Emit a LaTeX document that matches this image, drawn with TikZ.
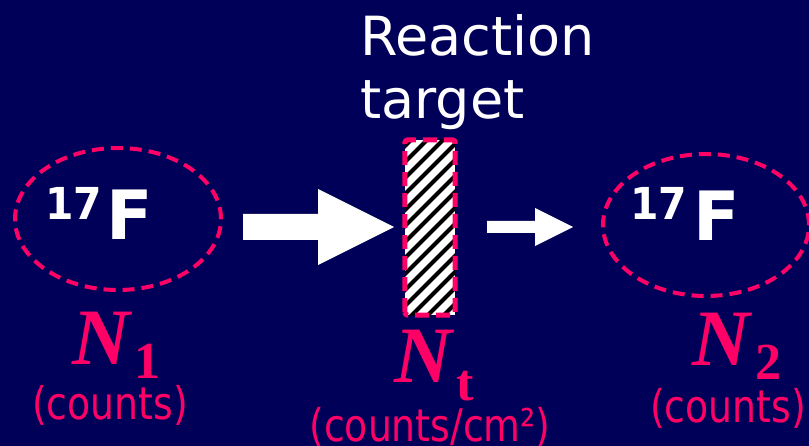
\documentclass[tikz,border=0pt]{standalone}
\usepackage{fontspec}
\setmainfont{DejaVu Sans}
\newfontfamily\nserif{Liberation Serif}
\usetikzlibrary{shapes.geometric}
\definecolor{bg}{HTML}{000058}
\definecolor{pk}{HTML}{FF0066}
\tikzset{
  nucl/.style={draw=pk, line width=4pt, dash pattern=on 12pt off 7pt, ellipse, minimum width=206pt, minimum height=142pt, inner sep=0pt},
  bigtxt/.style={text=white, inner sep=0pt, anchor=base west, font=\fontsize{54}{60}\selectfont},
  isolbl/.style={text=white, inner sep=0pt, anchor=base west, font=\bfseries\fontsize{44}{44}\selectfont, xscale=0.93},
  elbl/.style={text=white, inner sep=0pt, anchor=base west, font=\bfseries\fontsize{68}{68}\selectfont},
  Nlbl/.style={text=pk, inner sep=0pt, anchor=base west, font=\nserif\bfseries\itshape\fontsize{80}{80}\selectfont},
  sublbl/.style={text=pk, inner sep=0pt, anchor=base west, font=\nserif\bfseries\fontsize{52}{52}\selectfont},
  unitlbl/.style={text=pk, inner sep=0pt, anchor=base, font=\fontsize{45}{45}\selectfont, xscale=0.84},
  targetbox/.style={draw=pk, line width=5pt, dash pattern=on 14pt off 7pt, rounded corners=3pt},
  hatchline/.style={black, line width=4pt},
  arrowshape/.style={fill=white}
}
\begin{document}
\begin{tikzpicture}[x=1pt,y=-1pt]
\fill[bg] (0,0) rectangle (809,446);
\useasboundingbox (0,0) rectangle (809,446);

% ellipses
\node[nucl] (n1) at (118,219) {};
\node[nucl] (n2) at (706,225) {};

% isotope labels
\node[isolbl] (i1) at (45,220) {17};
\node[elbl] (f1) at (106,240) {F};
\node[isolbl] (i2) at (630,220) {17};
\node[elbl] (f2) at (693,241) {F};

% target
\node[fill=white, minimum width=50pt, minimum height=175pt, inner sep=0pt] (tg) at (430,227.5) {};
\begin{scope}
  \clip (tg.south west) rectangle (tg.north east);
  \foreach \k in {0,...,18} {
    \draw[hatchline] (395,{140+\k*16}) -- ++(90,-90);
  }
\end{scope}
\draw[targetbox] (tg.south west) rectangle (tg.north east);

% arrows
\fill[arrowshape] (243,214) -- (318,214) -- (318,189) -- (394,227) -- (318,265) -- (318,240) -- (243,240) -- cycle;
\fill[arrowshape] (487,221) -- (535,221) -- (535,208) -- (573,227) -- (535,246) -- (535,233) -- (487,233) -- cycle;

% title
\node[bigtxt] (r1) at (360,56) {Reaction};
\node[bigtxt] (r2) at (360,119) {target};

% N labels
\node[Nlbl] (N1) at (72,365) {N};
\node[sublbl] (s1) at (134,378) {1};
\node[unitlbl] (u1) at (110,420) {(counts)};

\node[Nlbl] (Nt) at (394,383) {N};
\node[sublbl] (st) at (456,400) {t};
\node[unitlbl] (ut) at (430,442) {(counts/cm²)};

\node[Nlbl] (N2) at (692,366) {N};
\node[sublbl] (s2) at (755,380) {2};
\node[unitlbl] (u2) at (728,422) {(counts)};
\end{tikzpicture}
\end{document}
